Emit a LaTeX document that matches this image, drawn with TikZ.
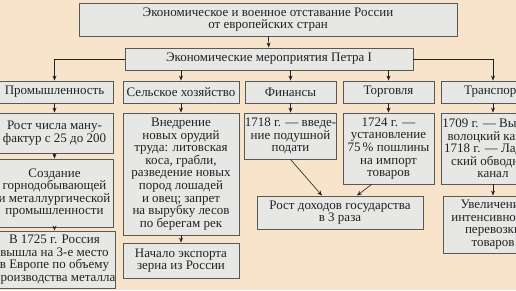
\documentclass[tikz,border=0pt]{standalone}
\usepackage{fontspec}
\setmainfont{Liberation Serif}
\usetikzlibrary{positioning,arrows.meta,calc}
\definecolor{bgbeige}{HTML}{F7E4CB}
\definecolor{boxgray}{HTML}{E7E7E5}
\definecolor{edgegray}{HTML}{585858}
\definecolor{inkgray}{HTML}{222222}

\tikzset{
  box/.style={draw=edgegray, fill=boxgray, line width=0.9pt, align=center,
    inner sep=0pt, text=inkgray, font=\fontsize{13}{12.6}\selectfont},
  link/.style={-{Stealth[length=5pt,width=4pt]}, draw=inkgray, line width=0.6pt}
}

\begin{document}
\begin{tikzpicture}[x=1pt, y=-1pt]

% Column centres
\def\colprom{54.5}
\def\colsel{181}
\def\colfin{290.5}
\def\coltorg{388.5}
\def\coltrans{493}

% Background and frame
\clip (0,0) rectangle (516,290);
\fill[bgbeige] (0,0) rectangle (516,290);

% Top of the scheme
\node[box, minimum width=378, minimum height=33] (lag) at (268,19.5)
  {Экономическое и военное отставание России\\от европейских стран};
\node[box, minimum width=288, minimum height=22] (reform) at (269,59)
  {Экономические мероприятия Петра I};

% Column headers
\node[box, minimum width=117, minimum height=22] (prom) at (\colprom,92) {Промышленность};
\node[box, minimum width=116, minimum height=22] (sel) at (\colsel,92) {Сельское хозяйство};
\node[box, minimum width=91, minimum height=22] (fin) at (\colfin,92) {Финансы};
\node[box, minimum width=91, minimum height=22] (torg) at (\coltorg,92) {Торговля};
\node[box, minimum width=104, minimum height=22] (trans) at (\coltrans,92) {Транспорт};

% Industry
\node[box, minimum width=117, minimum height=40] (prom2) at (\colprom,133)
  {Рост числа ману-\\фактур с 25 до 200};
\node[box, minimum width=117, minimum height=68] (prom3) at (\colprom,193)
  {Создание\\горнодобывающей\\и металлургической\\промышленности};
\node[box, minimum width=117, minimum height=57] (prom4) at (\colprom,259.5)
  {В 1725 г. Россия\\вышла на 3-е место\\в Европе по объему\\производства металла};

% Agriculture
\node[box, minimum width=116, minimum height=122] (sel2) at (\colsel,174)
  {Внедрение\\новых орудий\\труда: литовская\\коса, грабли,\\разведение новых\\пород лошадей\\и овец; запрет\\на вырубку лесов\\по берегам рек};
\node[box, minimum width=116, minimum height=35] (sel3) at (\colsel,260.5)
  {Начало экспорта\\зерна из России};

% Finance and trade
\node[box, minimum width=91, minimum height=46] (fin2) at (\colfin,136)
  {1718 г. — введе-\\ние подушной\\подати};
\node[box, minimum width=91, minimum height=71] (torg2) at (\coltorg,148.5)
  {1724 г. —\\установление\\75\,\% пошлины\\на импорт\\товаров};
\node[box, minimum width=166, minimum height=33] (income) at (340,212.5)
  {Рост доходов государства\\в 3 раза};

% Transport
\node[box, minimum width=104, minimum height=71] (trans2) at (\coltrans,148.5)
  {1709 г. — Вышне-\\волоцкий канал;\\1718 г. — Ладож-\\ский обводный\\канал};
\node[box, minimum width=100, minimum height=57] (trans3) at (\coltrans,224.5)
  {Увеличение\\интенсивности\\перевозки\\товаров};

% Connectors
\draw[link] (lag) -- (reform);
\draw[link] (reform.west) -| (prom.north);
\draw[link] (reform.east) -| (trans.north);
\foreach \col in {sel, fin, torg}
  \draw[link] (reform.south -| \col.north) -- (\col.north);
\foreach \a/\b in {prom/prom2, prom2/prom3, prom3/prom4, sel/sel2, sel2/sel3,
                   fin/fin2, torg/torg2, trans/trans2, trans2/trans3}
  \draw[link] (\a) -- (\b);
\draw[link] (fin2.south) -- ($(income.north)+(-18,0)$);
\draw[link] ($(torg2.south west)+(29,0)$) -- ($(income.north)+(17,0)$);

\end{tikzpicture}
\end{document}
